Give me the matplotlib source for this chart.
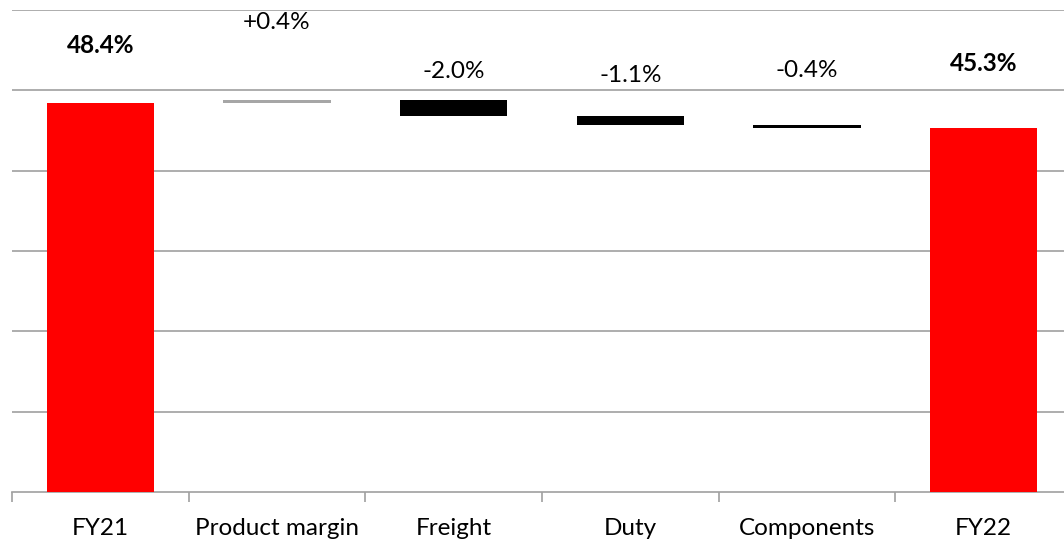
import matplotlib
matplotlib.use("Agg")
import matplotlib.pyplot as plt
import numpy as np

# Gross margin bridge, FY21 -> FY22 (percentage points)
categories = ["FY21", "Product margin", "Freight", "Duty", "Components", "FY22"]
start_value = 48.4
changes = [0.4, -2.0, -1.1, -0.4]
end_value = 45.3
labels = ["48.4%", "+0.4%", "-2.0%", "-1.1%", "-0.4%", "45.3%"]

# Vertical placement of the value labels (data units) and their weights
label_y = [55.6, 58.4, 52.4, 51.8, 52.5, 53.3]
label_bold = [True, False, False, False, False, True]

plt.rcParams["font.family"] = ["Lato", "DejaVu Sans"]

fig = plt.figure(figsize=(10.64, 5.42), dpi=100)
ax = fig.add_axes([12 / 1064, 1 - 492 / 542, 1060 / 1064, 482 / 542])

x = np.arange(len(categories))
width = 0.607

# Totals
ax.bar(x[0], start_value, width=width, color="#ff0000", zorder=3)
ax.bar(x[-1], end_value, width=width, color="#ff0000", zorder=3)

# Floating change bars
level = start_value
for i, d in enumerate(changes, start=1):
    bottom = level if d >= 0 else level + d
    color = "#a6a6a6" if d >= 0 else "#000000"
    ax.bar(x[i], abs(d), bottom=bottom, width=width, color=color, zorder=3)
    level += d

for xi, txt, y, b in zip(x, labels, label_y, label_bold):
    ax.text(xi, y, txt, ha="center", va="center", fontsize=17.5,
            fontweight="bold" if b else "normal", color="black", zorder=4)

ax.set_xlim(-0.5, len(categories) - 0.5)
ax.set_ylim(0, 60)
ax.set_yticks(np.arange(10, 61, 10))
ax.yaxis.grid(True, color="#a0a0a0", linewidth=1.2)
ax.set_axisbelow(True)
ax.tick_params(axis="y", left=False, labelleft=False)

ax.set_xticks(x)
ax.set_xticklabels(categories, fontsize=17.5)
ax.tick_params(axis="x", which="major", length=0, pad=19)
ax.set_xticks(np.arange(-0.5, len(categories), 1), minor=True)
ax.tick_params(axis="x", which="minor", length=7, color="#a0a0a0", width=1.2)

for side in ["top", "right", "left"]:
    ax.spines[side].set_visible(False)
ax.spines["bottom"].set_color("#a0a0a0")
ax.spines["bottom"].set_linewidth(1.2)

fig.savefig("out.png", dpi=100)
